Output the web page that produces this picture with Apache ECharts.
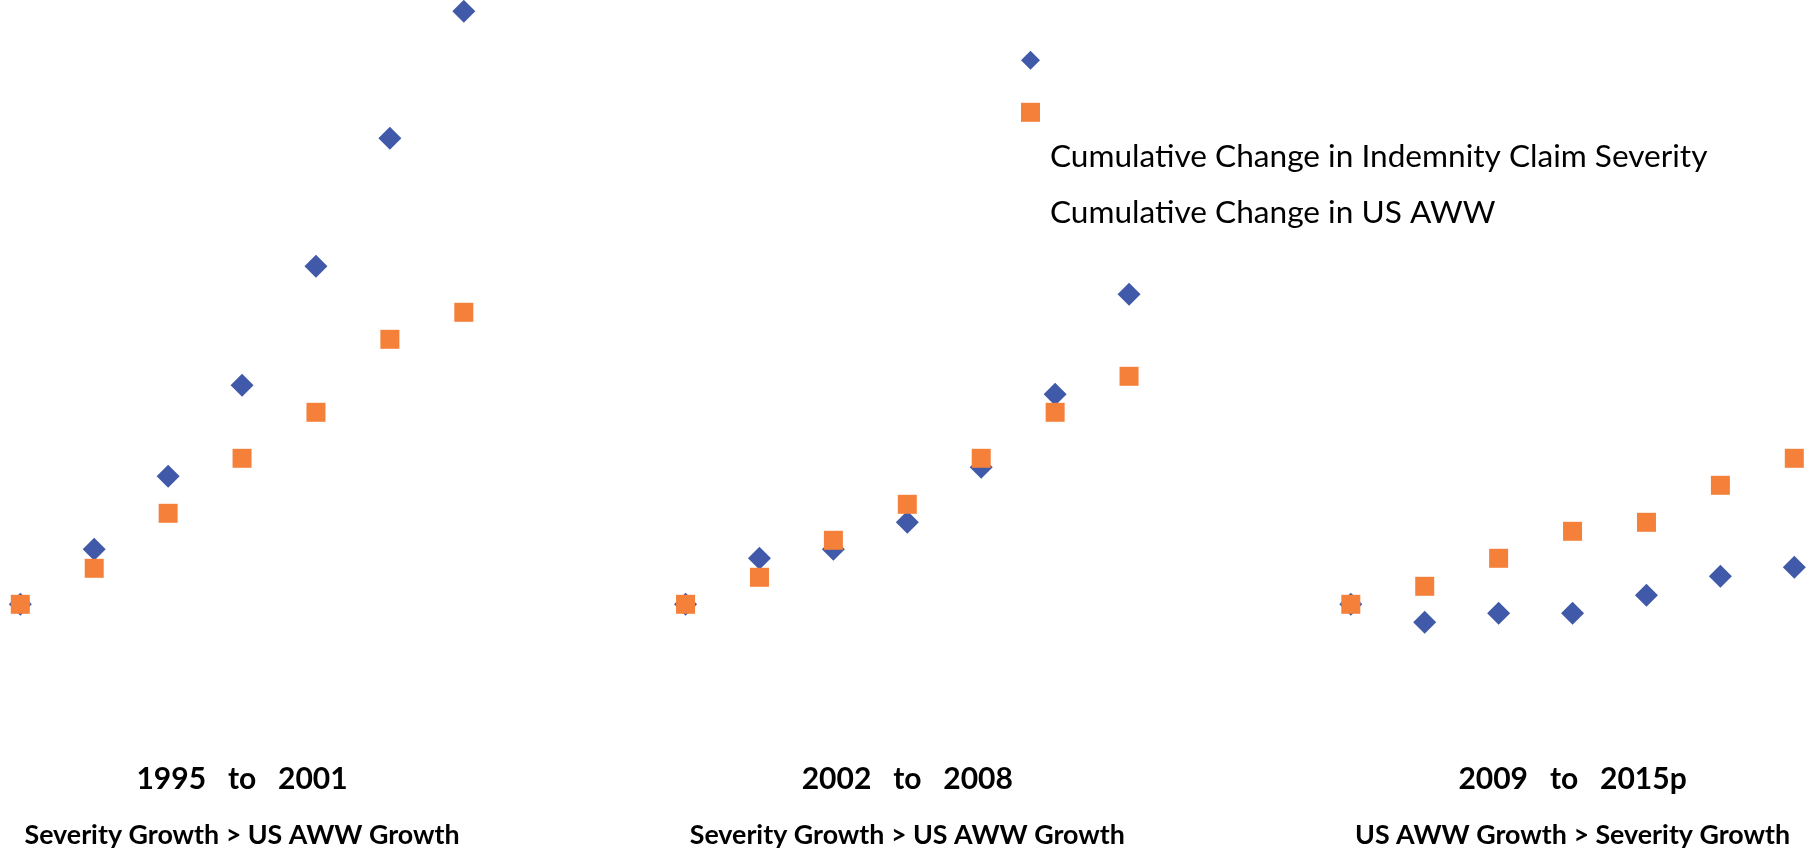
<!DOCTYPE html>
<html>
<head>
<meta charset="utf-8">
<script src="https://cdn.jsdelivr.net/npm/echarts@6/dist/echarts.min.js"></script>
<style>
  html, body { margin: 0; padding: 0; background: #ffffff; }
  #chart { width: 1817px; height: 849px; }
</style>
</head>
<body>
<div id="chart"></div>
<script>
// ---- Data (cumulative % change, each period indexed to 0 at its first year) ----
const years1 = ['1995', '1996', '1997', '1998', '1999', '2000', '2001'];
const years2 = ['2002', '2003', '2004', '2005', '2006', '2007', '2008'];
const years3 = ['2009', '2010', '2011', '2012', '2013', '2014', '2015p'];

const severity1 = [0, 5.5, 12.8, 21.9, 33.8, 46.6, 59.3];
const aww1      = [0, 3.6, 9.1, 14.6, 19.2, 26.5, 29.2];
const severity2 = [0, 4.6, 5.5, 8.2, 13.7, 21.0, 31.0];
const aww2      = [0, 2.7, 6.4, 10.0, 14.6, 19.2, 22.8];
const severity3 = [0, -1.8, -0.9, -0.9, 0.9, 2.8, 3.7];
const aww3      = [0, 1.8, 4.6, 7.3, 8.2, 11.9, 14.6];

const panelTitles = ['1995   to   2001', '2002   to   2008', '2009   to   2015p'];
const panelNotes  = ['Severity Growth > US AWW Growth', 'Severity Growth > US AWW Growth', 'US AWW Growth > Severity Growth'];
const labelYears  = ['1998', '2005', '2012'];   // category under which each panel caption sits

const severityName = 'Cumulative Change in Indemnity Claim Severity';
const awwName = 'Cumulative Change in US AWW';

// ---- Build category axis with two empty gap slots between periods ----
const gapA = ['gap-1', 'gap-2'];
const gapB = ['gap-3', 'gap-4'];
const categories = [].concat(years1, gapA, years2, gapB, years3);

function pairs(years, vals) {
  return years.map((y, i) => [y, vals[i]]);
}
const severityData = [].concat(pairs(years1, severity1), pairs(years2, severity2), pairs(years3, severity3));
const awwData = [].concat(pairs(years1, aww1), pairs(years2, aww2), pairs(years3, aww3));

const BLUE = '#4159A9';
const ORANGE = '#F4803A';
const FONT = 'Lato';

const chart = echarts.init(document.getElementById('chart'), null, { renderer: 'canvas' });

chart.setOption({
  animation: false,
  backgroundColor: '#ffffff',
  grid: {
    left: 20.3,
    right: 22.7,
    top: 4.3,
    bottom: 144.7,
    outerBoundsMode: 'none',
    containLabel: false
  },
  legend: [
    {
      orient: 'vertical',
      left: 1021,
      top: 50.8,
      padding: 0,
      itemWidth: 19,
      itemHeight: 19,
      itemGap: 33,
      formatter: function () { return ''; },
      data: [
        { name: severityName, icon: 'diamond' },
        { name: awwName, icon: 'rect' }
      ]
    },
    {
      orient: 'vertical',
      left: 1044,
      top: 136.5,
      padding: 0,
      itemWidth: 1,
      itemHeight: 40,
      itemGap: 16,
      textStyle: { fontFamily: FONT, fontSize: 31.6, color: '#000000', lineHeight: 40 },
      data: [
        { name: severityName, icon: 'none' },
        { name: awwName, icon: 'none' }
      ]
    }
  ],
  xAxis: {
    type: 'category',
    data: categories,
    boundaryGap: false,
    axisLine: { show: false },
    axisTick: { show: false },
    splitLine: { show: false },
    axisLabel: {
      interval: 0,
      margin: 47.7,
      hideOverlap: false,
      formatter: function (value) {
        const k = labelYears.indexOf(value);
        if (k < 0) return '';
        return '{t|' + panelTitles[k] + '}\n{s|' + panelNotes[k] + '}';
      },
      rich: {
        t: { fontFamily: FONT, fontWeight: 'bold', fontSize: 30, lineHeight: 54, color: '#000000', align: 'center' },
        s: { fontFamily: FONT, fontWeight: 'bold', fontSize: 26.8, lineHeight: 58, color: '#000000', align: 'center' }
      }
    }
  },
  yAxis: {
    type: 'value',
    min: -10,
    max: 60,
    show: false,
    splitLine: { show: false }
  },
  series: [
    {
      name: severityName,
      type: 'scatter',
      symbol: 'diamond',
      symbolSize: 23,
      itemStyle: { color: BLUE, opacity: 1 },
      data: severityData,
      z: 2
    },
    {
      name: awwName,
      type: 'scatter',
      symbol: 'rect',
      symbolSize: 19,
      itemStyle: { color: ORANGE, opacity: 1 },
      data: awwData,
      z: 3
    }
  ]
});
</script>
</body>
</html>
